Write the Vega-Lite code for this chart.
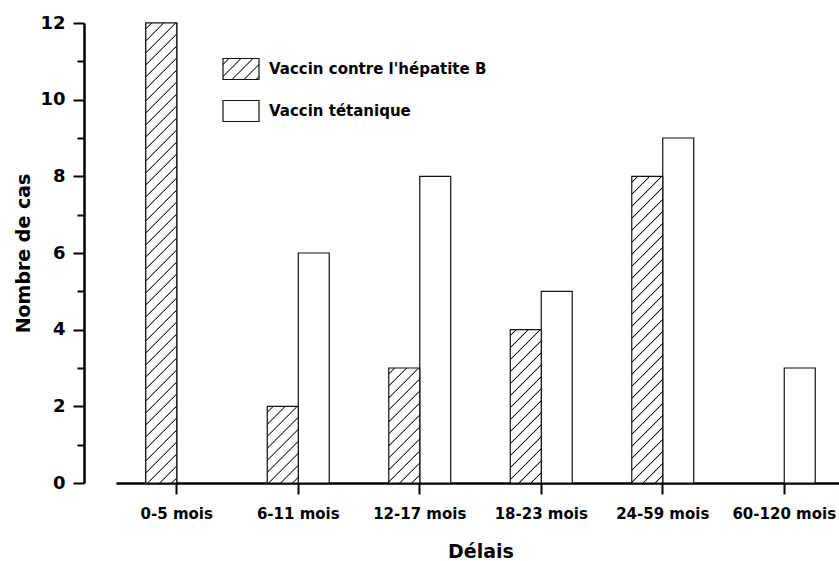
{
  "$schema": "https://vega.github.io/schema/vega-lite/v6.json",
  "width": 723,
  "height": 460,
  "autosize": {"type": "none"},
  "padding": {"left": 116, "top": 23, "right": 0, "bottom": 78},
  "background": "white",
  "config": {
    "view": {"stroke": null},
    "font": "DejaVu Sans",
    "axis": {"grid": false, "labelFont": "DejaVu Sans", "titleFont": "DejaVu Sans", "labelColor": "#000", "titleColor": "#000", "domainColor": "#000", "tickColor": "#000"},
    "legend": {"labelFont": "DejaVu Sans", "labelFontSize": 15, "labelFontWeight": "bold", "labelColor": "#000", "labelLimit": 400}
  },
  "resolve": {"scale": {"stroke": "independent"}, "legend": {"stroke": "independent"}},
  "data": {
    "values": [
      {"delai": "0-5 mois", "serie": "Vaccin contre l'hépatite B", "n": 12},
      {"delai": "6-11 mois", "serie": "Vaccin contre l'hépatite B", "n": 2},
      {"delai": "12-17 mois", "serie": "Vaccin contre l'hépatite B", "n": 3},
      {"delai": "18-23 mois", "serie": "Vaccin contre l'hépatite B", "n": 4},
      {"delai": "24-59 mois", "serie": "Vaccin contre l'hépatite B", "n": 8},
      {"delai": "6-11 mois", "serie": "Vaccin tétanique", "n": 6},
      {"delai": "12-17 mois", "serie": "Vaccin tétanique", "n": 8},
      {"delai": "18-23 mois", "serie": "Vaccin tétanique", "n": 5},
      {"delai": "24-59 mois", "serie": "Vaccin tétanique", "n": 9},
      {"delai": "60-120 mois", "serie": "Vaccin tétanique", "n": 3}
    ]
  },
  "encoding": {
    "x": {
      "field": "delai", "type": "nominal", "sort": null,
      "scale": {"domain": ["0-5 mois", "6-11 mois", "12-17 mois", "18-23 mois", "24-59 mois", "60-120 mois"], "range": [0, 729], "paddingInner": 0.49, "paddingOuter": 0.245},
      "axis": {"title": "Délais", "labelAngle": 0, "labelFontSize": 15, "labelFontWeight": "bold", "labelPadding": 12, "tickSize": 11, "tickWidth": 2, "domainWidth": 2.5, "titleFontSize": 19, "titleFontWeight": "bold", "titlePadding": 21, "labelFlush": false}
    },
    "xOffset": {
      "field": "serie", "type": "nominal",
      "scale": {"domain": ["Vaccin contre l'hépatite B", "Vaccin tétanique"], "paddingInner": 0, "paddingOuter": 0}
    },
    "y": {
      "field": "n", "type": "quantitative",
      "scale": {"domain": [0, 12], "nice": false},
      "axis": {"title": "Nombre de cas", "values": [0,1,2,3,4,5,6,7,8,9,10,11,12], "labelExpr": "datum.value % 2 === 0 ? datum.label : ''", "labelOverlap": false, "tickSize": {"condition": {"test": "datum.value % 2 === 1", "value": 7}, "value": 11}, "offset": 32, "labelFontSize": 18, "labelFontWeight": "bold", "labelPadding": 8, "tickWidth": 2, "domainWidth": 2.5, "titleFontSize": 19, "titleFontWeight": "bold", "titlePadding": 6}
    }
  },
  "layer": [
    {
      "transform": [{"filter": {"and": [{"field": "serie", "equal": "Vaccin contre l'hépatite B"}, {"field": "delai", "equal": "0-5 mois"}]}}],
      "mark": {"type": "bar", "strokeWidth": 1.2, "opacity": 1, "fill": {"gradient": "linear", "x1": 0, "y1": 0, "x2": 10.176, "y2": 5.936, "stops": [
        {"offset":0.0098,"color":"#fff"},{"offset":0.0122,"color":"#000"},{"offset":0.0147,"color":"#fff"},
        {"offset":0.0342,"color":"#fff"},{"offset":0.0367,"color":"#000"},{"offset":0.0391,"color":"#fff"},
        {"offset":0.0587,"color":"#fff"},{"offset":0.0611,"color":"#000"},{"offset":0.0635,"color":"#fff"},
        {"offset":0.0831,"color":"#fff"},{"offset":0.0855,"color":"#000"},{"offset":0.0880,"color":"#fff"},
        {"offset":0.1075,"color":"#fff"},{"offset":0.1100,"color":"#000"},{"offset":0.1124,"color":"#fff"},
        {"offset":0.1320,"color":"#fff"},{"offset":0.1344,"color":"#000"},{"offset":0.1369,"color":"#fff"}
      ]}},
      "encoding": {
        "stroke": {
          "field": "serie", "type": "nominal",
          "scale": {"domain": ["Vaccin contre l'hépatite B"], "range": ["#111"]},
          "legend": {
            "title": null, "orient": "none", "legendX": 106, "legendY": 27, "padding": 0,
            "symbolType": "M-1,-0.5833H1V0.5833H-1Z", "symbolSize": 1296, "symbolStrokeWidth": 1.2, "symbolOpacity": 1,
            "labelOffset": 9
          }
        }
      }
    },
    {
      "transform": [{"filter": {"field": "serie", "equal": "Vaccin tétanique"}}],
      "mark": {"type": "bar", "fill": "#fff", "strokeWidth": 1.2, "opacity": 1},
      "encoding": {
        "stroke": {
          "field": "serie", "type": "nominal",
          "scale": {"domain": ["Vaccin tétanique"], "range": ["#111"]},
          "legend": {
            "title": null, "orient": "none", "legendX": 106, "legendY": 69, "padding": 0,
            "symbolType": "M-1,-0.5833H1V0.5833H-1Z", "symbolSize": 1296, "symbolStrokeWidth": 1.2, "symbolOpacity": 1,
            "labelOffset": 9
          }
        }
      }
    },
    {
      "transform": [{"filter": {"and": [{"field": "serie", "equal": "Vaccin contre l'hépatite B"}, {"field": "delai", "equal": "0-5 mois"}]}}],
      "mark": {"type": "bar", "stroke": "#111", "strokeWidth": 1.2, "opacity": 1, "fill": {"gradient": "linear", "x1": 0, "y1": 0, "x2": 0.0716078, "y2": 1.062568, "stops": [
        {"offset":0.0098,"color":"#fff"},{"offset":0.0122,"color":"#000"},{"offset":0.0147,"color":"#fff"},
        {"offset":0.0342,"color":"#fff"},{"offset":0.0367,"color":"#000"},{"offset":0.0391,"color":"#fff"},
        {"offset":0.0587,"color":"#fff"},{"offset":0.0611,"color":"#000"},{"offset":0.0635,"color":"#fff"},
        {"offset":0.0831,"color":"#fff"},{"offset":0.0855,"color":"#000"},{"offset":0.0880,"color":"#fff"},
        {"offset":0.1075,"color":"#fff"},{"offset":0.1100,"color":"#000"},{"offset":0.1124,"color":"#fff"},
        {"offset":0.1320,"color":"#fff"},{"offset":0.1344,"color":"#000"},{"offset":0.1369,"color":"#fff"},
        {"offset":0.1564,"color":"#fff"},{"offset":0.1589,"color":"#000"},{"offset":0.1613,"color":"#fff"},
        {"offset":0.1809,"color":"#fff"},{"offset":0.1833,"color":"#000"},{"offset":0.1857,"color":"#fff"},
        {"offset":0.2053,"color":"#fff"},{"offset":0.2077,"color":"#000"},{"offset":0.2102,"color":"#fff"},
        {"offset":0.2297,"color":"#fff"},{"offset":0.2322,"color":"#000"},{"offset":0.2346,"color":"#fff"},
        {"offset":0.2542,"color":"#fff"},{"offset":0.2566,"color":"#000"},{"offset":0.2591,"color":"#fff"},
        {"offset":0.2786,"color":"#fff"},{"offset":0.2811,"color":"#000"},{"offset":0.2835,"color":"#fff"},
        {"offset":0.3031,"color":"#fff"},{"offset":0.3055,"color":"#000"},{"offset":0.3079,"color":"#fff"},
        {"offset":0.3275,"color":"#fff"},{"offset":0.3299,"color":"#000"},{"offset":0.3324,"color":"#fff"},
        {"offset":0.3519,"color":"#fff"},{"offset":0.3544,"color":"#000"},{"offset":0.3568,"color":"#fff"},
        {"offset":0.3764,"color":"#fff"},{"offset":0.3788,"color":"#000"},{"offset":0.3813,"color":"#fff"},
        {"offset":0.4008,"color":"#fff"},{"offset":0.4033,"color":"#000"},{"offset":0.4057,"color":"#fff"},
        {"offset":0.4253,"color":"#fff"},{"offset":0.4277,"color":"#000"},{"offset":0.4301,"color":"#fff"},
        {"offset":0.4497,"color":"#fff"},{"offset":0.4521,"color":"#000"},{"offset":0.4546,"color":"#fff"},
        {"offset":0.4741,"color":"#fff"},{"offset":0.4766,"color":"#000"},{"offset":0.4790,"color":"#fff"},
        {"offset":0.4986,"color":"#fff"},{"offset":0.5010,"color":"#000"},{"offset":0.5035,"color":"#fff"},
        {"offset":0.5230,"color":"#fff"},{"offset":0.5255,"color":"#000"},{"offset":0.5279,"color":"#fff"},
        {"offset":0.5475,"color":"#fff"},{"offset":0.5499,"color":"#000"},{"offset":0.5523,"color":"#fff"},
        {"offset":0.5719,"color":"#fff"},{"offset":0.5743,"color":"#000"},{"offset":0.5768,"color":"#fff"},
        {"offset":0.5963,"color":"#fff"},{"offset":0.5988,"color":"#000"},{"offset":0.6012,"color":"#fff"},
        {"offset":0.6208,"color":"#fff"},{"offset":0.6232,"color":"#000"},{"offset":0.6257,"color":"#fff"},
        {"offset":0.6452,"color":"#fff"},{"offset":0.6477,"color":"#000"},{"offset":0.6501,"color":"#fff"},
        {"offset":0.6697,"color":"#fff"},{"offset":0.6721,"color":"#000"},{"offset":0.6745,"color":"#fff"},
        {"offset":0.6941,"color":"#fff"},{"offset":0.6965,"color":"#000"},{"offset":0.6990,"color":"#fff"},
        {"offset":0.7185,"color":"#fff"},{"offset":0.7210,"color":"#000"},{"offset":0.7234,"color":"#fff"},
        {"offset":0.7430,"color":"#fff"},{"offset":0.7454,"color":"#000"},{"offset":0.7479,"color":"#fff"},
        {"offset":0.7674,"color":"#fff"},{"offset":0.7699,"color":"#000"},{"offset":0.7723,"color":"#fff"},
        {"offset":0.7919,"color":"#fff"},{"offset":0.7943,"color":"#000"},{"offset":0.7967,"color":"#fff"},
        {"offset":0.8163,"color":"#fff"},{"offset":0.8187,"color":"#000"},{"offset":0.8212,"color":"#fff"},
        {"offset":0.8407,"color":"#fff"},{"offset":0.8432,"color":"#000"},{"offset":0.8456,"color":"#fff"},
        {"offset":0.8652,"color":"#fff"},{"offset":0.8676,"color":"#000"},{"offset":0.8701,"color":"#fff"},
        {"offset":0.8896,"color":"#fff"},{"offset":0.8921,"color":"#000"},{"offset":0.8945,"color":"#fff"},
        {"offset":0.9141,"color":"#fff"},{"offset":0.9165,"color":"#000"},{"offset":0.9189,"color":"#fff"},
        {"offset":0.9385,"color":"#fff"},{"offset":0.9409,"color":"#000"},{"offset":0.9434,"color":"#fff"},
        {"offset":0.9629,"color":"#fff"},{"offset":0.9654,"color":"#000"},{"offset":0.9678,"color":"#fff"},
        {"offset":0.9874,"color":"#fff"},{"offset":0.9898,"color":"#000"},{"offset":0.9922,"color":"#fff"}
      ]}}
    },
    {
      "transform": [{"filter": {"and": [{"field": "serie", "equal": "Vaccin contre l'hépatite B"}, {"field": "delai", "equal": "6-11 mois"}]}}],
      "mark": {"type": "bar", "stroke": "#111", "strokeWidth": 1.2, "opacity": 1, "fill": {"gradient": "linear", "x1": 0, "y1": 0, "x2": 2.22569, "y2": 5.5044, "stops": [
        {"offset":0.0098,"color":"#fff"},{"offset":0.0122,"color":"#000"},{"offset":0.0147,"color":"#fff"},
        {"offset":0.0342,"color":"#fff"},{"offset":0.0367,"color":"#000"},{"offset":0.0391,"color":"#fff"},
        {"offset":0.0587,"color":"#fff"},{"offset":0.0611,"color":"#000"},{"offset":0.0635,"color":"#fff"},
        {"offset":0.0831,"color":"#fff"},{"offset":0.0855,"color":"#000"},{"offset":0.0880,"color":"#fff"},
        {"offset":0.1075,"color":"#fff"},{"offset":0.1100,"color":"#000"},{"offset":0.1124,"color":"#fff"},
        {"offset":0.1320,"color":"#fff"},{"offset":0.1344,"color":"#000"},{"offset":0.1369,"color":"#fff"},
        {"offset":0.1564,"color":"#fff"},{"offset":0.1589,"color":"#000"},{"offset":0.1613,"color":"#fff"},
        {"offset":0.1809,"color":"#fff"},{"offset":0.1833,"color":"#000"},{"offset":0.1857,"color":"#fff"},
        {"offset":0.2053,"color":"#fff"},{"offset":0.2077,"color":"#000"},{"offset":0.2102,"color":"#fff"},
        {"offset":0.2297,"color":"#fff"},{"offset":0.2322,"color":"#000"},{"offset":0.2346,"color":"#fff"}
      ]}}
    },
    {
      "transform": [{"filter": {"and": [{"field": "serie", "equal": "Vaccin contre l'hépatite B"}, {"field": "delai", "equal": "12-17 mois"}]}}],
      "mark": {"type": "bar", "stroke": "#111", "strokeWidth": 1.2, "opacity": 1, "fill": {"gradient": "linear", "x1": 0, "y1": 0, "x2": 1.07296, "y2": 3.98033, "stops": [
        {"offset":0.0098,"color":"#fff"},{"offset":0.0122,"color":"#000"},{"offset":0.0147,"color":"#fff"},
        {"offset":0.0342,"color":"#fff"},{"offset":0.0367,"color":"#000"},{"offset":0.0391,"color":"#fff"},
        {"offset":0.0587,"color":"#fff"},{"offset":0.0611,"color":"#000"},{"offset":0.0635,"color":"#fff"},
        {"offset":0.0831,"color":"#fff"},{"offset":0.0855,"color":"#000"},{"offset":0.0880,"color":"#fff"},
        {"offset":0.1075,"color":"#fff"},{"offset":0.1100,"color":"#000"},{"offset":0.1124,"color":"#fff"},
        {"offset":0.1320,"color":"#fff"},{"offset":0.1344,"color":"#000"},{"offset":0.1369,"color":"#fff"},
        {"offset":0.1564,"color":"#fff"},{"offset":0.1589,"color":"#000"},{"offset":0.1613,"color":"#fff"},
        {"offset":0.1809,"color":"#fff"},{"offset":0.1833,"color":"#000"},{"offset":0.1857,"color":"#fff"},
        {"offset":0.2053,"color":"#fff"},{"offset":0.2077,"color":"#000"},{"offset":0.2102,"color":"#fff"},
        {"offset":0.2297,"color":"#fff"},{"offset":0.2322,"color":"#000"},{"offset":0.2346,"color":"#fff"},
        {"offset":0.2542,"color":"#fff"},{"offset":0.2566,"color":"#000"},{"offset":0.2591,"color":"#fff"},
        {"offset":0.2786,"color":"#fff"},{"offset":0.2811,"color":"#000"},{"offset":0.2835,"color":"#fff"},
        {"offset":0.3031,"color":"#fff"},{"offset":0.3055,"color":"#000"},{"offset":0.3079,"color":"#fff"}
      ]}}
    },
    {
      "transform": [{"filter": {"and": [{"field": "serie", "equal": "Vaccin contre l'hépatite B"}, {"field": "delai", "equal": "18-23 mois"}]}}],
      "mark": {"type": "bar", "stroke": "#111", "strokeWidth": 1.2, "opacity": 1, "fill": {"gradient": "linear", "x1": 0, "y1": 0, "x2": 0.621973, "y2": 3.07643, "stops": [
        {"offset":0.0098,"color":"#fff"},{"offset":0.0122,"color":"#000"},{"offset":0.0147,"color":"#fff"},
        {"offset":0.0342,"color":"#fff"},{"offset":0.0367,"color":"#000"},{"offset":0.0391,"color":"#fff"},
        {"offset":0.0587,"color":"#fff"},{"offset":0.0611,"color":"#000"},{"offset":0.0635,"color":"#fff"},
        {"offset":0.0831,"color":"#fff"},{"offset":0.0855,"color":"#000"},{"offset":0.0880,"color":"#fff"},
        {"offset":0.1075,"color":"#fff"},{"offset":0.1100,"color":"#000"},{"offset":0.1124,"color":"#fff"},
        {"offset":0.1320,"color":"#fff"},{"offset":0.1344,"color":"#000"},{"offset":0.1369,"color":"#fff"},
        {"offset":0.1564,"color":"#fff"},{"offset":0.1589,"color":"#000"},{"offset":0.1613,"color":"#fff"},
        {"offset":0.1809,"color":"#fff"},{"offset":0.1833,"color":"#000"},{"offset":0.1857,"color":"#fff"},
        {"offset":0.2053,"color":"#fff"},{"offset":0.2077,"color":"#000"},{"offset":0.2102,"color":"#fff"},
        {"offset":0.2297,"color":"#fff"},{"offset":0.2322,"color":"#000"},{"offset":0.2346,"color":"#fff"},
        {"offset":0.2542,"color":"#fff"},{"offset":0.2566,"color":"#000"},{"offset":0.2591,"color":"#fff"},
        {"offset":0.2786,"color":"#fff"},{"offset":0.2811,"color":"#000"},{"offset":0.2835,"color":"#fff"},
        {"offset":0.3031,"color":"#fff"},{"offset":0.3055,"color":"#000"},{"offset":0.3079,"color":"#fff"},
        {"offset":0.3275,"color":"#fff"},{"offset":0.3299,"color":"#000"},{"offset":0.3324,"color":"#fff"},
        {"offset":0.3519,"color":"#fff"},{"offset":0.3544,"color":"#000"},{"offset":0.3568,"color":"#fff"},
        {"offset":0.3764,"color":"#fff"},{"offset":0.3788,"color":"#000"},{"offset":0.3813,"color":"#fff"}
      ]}}
    },
    {
      "transform": [{"filter": {"and": [{"field": "serie", "equal": "Vaccin contre l'hépatite B"}, {"field": "delai", "equal": "24-59 mois"}]}}],
      "mark": {"type": "bar", "stroke": "#111", "strokeWidth": 1.2, "opacity": 1, "fill": {"gradient": "linear", "x1": 0, "y1": 0, "x2": 0.160212, "y2": 1.58489, "stops": [
        {"offset":0.0098,"color":"#fff"},{"offset":0.0122,"color":"#000"},{"offset":0.0147,"color":"#fff"},
        {"offset":0.0342,"color":"#fff"},{"offset":0.0367,"color":"#000"},{"offset":0.0391,"color":"#fff"},
        {"offset":0.0587,"color":"#fff"},{"offset":0.0611,"color":"#000"},{"offset":0.0635,"color":"#fff"},
        {"offset":0.0831,"color":"#fff"},{"offset":0.0855,"color":"#000"},{"offset":0.0880,"color":"#fff"},
        {"offset":0.1075,"color":"#fff"},{"offset":0.1100,"color":"#000"},{"offset":0.1124,"color":"#fff"},
        {"offset":0.1320,"color":"#fff"},{"offset":0.1344,"color":"#000"},{"offset":0.1369,"color":"#fff"},
        {"offset":0.1564,"color":"#fff"},{"offset":0.1589,"color":"#000"},{"offset":0.1613,"color":"#fff"},
        {"offset":0.1809,"color":"#fff"},{"offset":0.1833,"color":"#000"},{"offset":0.1857,"color":"#fff"},
        {"offset":0.2053,"color":"#fff"},{"offset":0.2077,"color":"#000"},{"offset":0.2102,"color":"#fff"},
        {"offset":0.2297,"color":"#fff"},{"offset":0.2322,"color":"#000"},{"offset":0.2346,"color":"#fff"},
        {"offset":0.2542,"color":"#fff"},{"offset":0.2566,"color":"#000"},{"offset":0.2591,"color":"#fff"},
        {"offset":0.2786,"color":"#fff"},{"offset":0.2811,"color":"#000"},{"offset":0.2835,"color":"#fff"},
        {"offset":0.3031,"color":"#fff"},{"offset":0.3055,"color":"#000"},{"offset":0.3079,"color":"#fff"},
        {"offset":0.3275,"color":"#fff"},{"offset":0.3299,"color":"#000"},{"offset":0.3324,"color":"#fff"},
        {"offset":0.3519,"color":"#fff"},{"offset":0.3544,"color":"#000"},{"offset":0.3568,"color":"#fff"},
        {"offset":0.3764,"color":"#fff"},{"offset":0.3788,"color":"#000"},{"offset":0.3813,"color":"#fff"},
        {"offset":0.4008,"color":"#fff"},{"offset":0.4033,"color":"#000"},{"offset":0.4057,"color":"#fff"},
        {"offset":0.4253,"color":"#fff"},{"offset":0.4277,"color":"#000"},{"offset":0.4301,"color":"#fff"},
        {"offset":0.4497,"color":"#fff"},{"offset":0.4521,"color":"#000"},{"offset":0.4546,"color":"#fff"},
        {"offset":0.4741,"color":"#fff"},{"offset":0.4766,"color":"#000"},{"offset":0.4790,"color":"#fff"},
        {"offset":0.4986,"color":"#fff"},{"offset":0.5010,"color":"#000"},{"offset":0.5035,"color":"#fff"},
        {"offset":0.5230,"color":"#fff"},{"offset":0.5255,"color":"#000"},{"offset":0.5279,"color":"#fff"},
        {"offset":0.5475,"color":"#fff"},{"offset":0.5499,"color":"#000"},{"offset":0.5523,"color":"#fff"},
        {"offset":0.5719,"color":"#fff"},{"offset":0.5743,"color":"#000"},{"offset":0.5768,"color":"#fff"},
        {"offset":0.5963,"color":"#fff"},{"offset":0.5988,"color":"#000"},{"offset":0.6012,"color":"#fff"},
        {"offset":0.6208,"color":"#fff"},{"offset":0.6232,"color":"#000"},{"offset":0.6257,"color":"#fff"},
        {"offset":0.6452,"color":"#fff"},{"offset":0.6477,"color":"#000"},{"offset":0.6501,"color":"#fff"},
        {"offset":0.6697,"color":"#fff"},{"offset":0.6721,"color":"#000"},{"offset":0.6745,"color":"#fff"},
        {"offset":0.6941,"color":"#fff"},{"offset":0.6965,"color":"#000"},{"offset":0.6990,"color":"#fff"}
      ]}}
    }
  ]
}
